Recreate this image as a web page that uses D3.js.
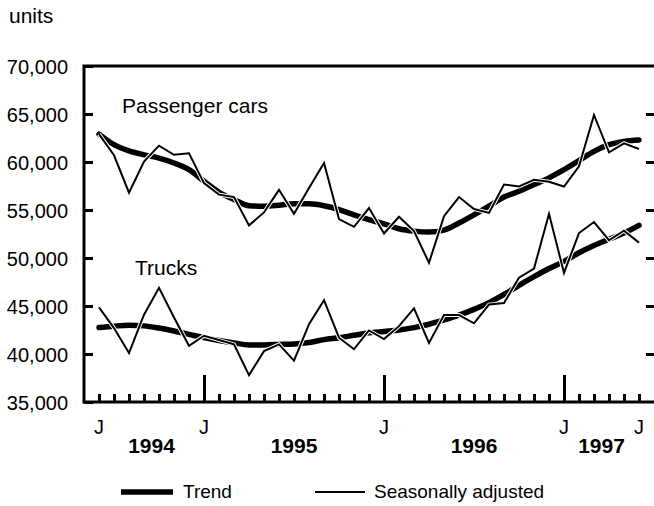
<!DOCTYPE html>
<html>
<head>
<meta charset="utf-8">
<script src="https://cdn.jsdelivr.net/npm/d3@7"></script>
<style>
  body { margin: 0; background: #fff; }
  text { font-family: "Liberation Sans", Arial, sans-serif; fill: #000; }
</style>
</head>
<body>
<div id="chart"></div>
<script>
var width = 654;
var height = 506;

// monthly, June 1994 .. June 1997
var months = d3.timeMonth.range(new Date(1994, 5, 1), new Date(1997, 6, 1));
var yTicks = [35000, 40000, 45000, 50000, 55000, 60000, 65000, 70000];
var years = ["1994", "1995", "1996", "1997"];

var carsSA = [62900, 60700, 56800, 60050, 61700, 60750, 60900, 57800, 56600, 56350,
  53400, 54750, 57100, 54600, 57300, 59900, 54050, 53250, 55200, 52550,
  54300, 52800, 49500, 54350, 56350, 55100, 54700, 57650, 57450, 58150,
  57950, 57450, 59550, 64900, 61000, 61950, 61350];
var carsTrend = [62900, 61800, 61150, 60750, 60400, 59900, 59200, 58000, 56850, 56100,
  55450, 55400, 55500, 55650, 55650, 55450, 55050, 54500, 54000, 53550,
  53050, 52800, 52700, 52900, 53650, 54500, 55400, 56350, 56950, 57650,
  58350, 59200, 60150, 61100, 61800, 62150, 62300];
var trucksSA = [44850, 42700, 40100, 44100, 46900, 43800, 40850, 41900, 41450, 41000,
  37800, 40300, 41000, 39300, 43100, 45600, 41700, 40500, 42450, 41550,
  42900, 44750, 41150, 44050, 44050, 43200, 45150, 45300, 47950, 48900,
  54600, 48450, 52600, 53750, 51850, 52850, 51600];
var trucksTrend = [42750, 42900, 43000, 42930, 42700, 42400, 42050, 41700, 41400, 41150,
  40950, 40950, 41000, 41050, 41200, 41500, 41700, 41950, 42200, 42350,
  42500, 42750, 43100, 43550, 44050, 44650, 45350, 46200, 47150, 48050,
  48900, 49650, 50550, 51300, 51950, 52600, 53400];

var plotLeft = 84, plotTop = 66, plotBottom = 402, plotRight = 656;

var svg = d3.select("#chart").append("svg")
  .attr("width", width)
  .attr("height", height);

var x = d3.scalePoint()
  .domain(months)
  .range([plotLeft, 654])
  .padding(1);

var y = d3.scaleLinear()
  .domain([35000, 70000])
  .range([plotBottom, plotTop]);

// frame
svg.append("rect")
  .attr("x", plotLeft)
  .attr("y", plotTop)
  .attr("width", plotRight - plotLeft)
  .attr("height", plotBottom - plotTop)
  .attr("fill", "none")
  .attr("stroke", "#000")
  .attr("stroke-width", 3);

// y axis left
var yAxis = svg.append("g")
  .attr("transform", "translate(" + plotLeft + ",0)")
  .call(d3.axisLeft(y).tickValues(yTicks).tickSize(-9).tickPadding(16)
    .tickFormat(d3.format(",")));
yAxis.select(".domain").remove();
yAxis.selectAll("line").attr("stroke-width", 3);
yAxis.selectAll("text").style("font-size", "20px").attr("dy", "0.36em");

// y ticks right
var yAxisR = svg.append("g")
  .attr("transform", "translate(" + plotRight + ",0)")
  .call(d3.axisRight(y).tickValues(yTicks.slice(1, -1)).tickSize(-10).tickFormat(""));
yAxisR.select(".domain").remove();
yAxisR.selectAll("line").attr("stroke-width", 3);

// month ticks
var xAxis = svg.append("g")
  .attr("transform", "translate(0," + plotBottom + ")")
  .call(d3.axisBottom(x).tickValues(months).tickSize(-8).tickFormat(""));
xAxis.select(".domain").remove();
xAxis.selectAll("line").attr("stroke-width", 3);

var jans = months.filter(function(d) { return d.getMonth() === 0; });
var xAxisJ = svg.append("g")
  .attr("transform", "translate(0," + plotBottom + ")")
  .call(d3.axisBottom(x).tickValues(jans).tickSize(-27).tickFormat(""));
xAxisJ.select(".domain").remove();
xAxisJ.selectAll("line").attr("stroke-width", 3);

// month letters
var jLabels = [months[0]].concat(jans).concat([months[months.length - 1]]);
svg.selectAll(".mlabel")
  .data(jLabels)
  .enter().append("text")
    .attr("class", "mlabel")
    .attr("x", function(d) { return x(d); })
    .attr("y", 434)
    .attr("text-anchor", "middle")
    .style("font-size", "20px")
    .text("J");

// year labels
var yearBounds = [
  [months[0], jans[0]],
  [jans[0], jans[1]],
  [jans[1], jans[2]],
  [jans[2], months[months.length - 1]]
];
svg.selectAll(".ylabel")
  .data(years)
  .enter().append("text")
    .attr("class", "ylabel")
    .attr("x", function(d, i) { return (x(yearBounds[i][0]) + x(yearBounds[i][1])) / 2; })
    .attr("y", 453)
    .attr("text-anchor", "middle")
    .style("font-size", "21px")
    .style("font-weight", "bold")
    .text(function(d) { return d; });

// lines
var trendLine = d3.line()
  .x(function(d, i) { return x(months[i]); })
  .y(function(d) { return y(d); })
  .curve(d3.curveMonotoneX);
var saLine = d3.line()
  .x(function(d, i) { return x(months[i]); })
  .y(function(d) { return y(d); });

[carsTrend, trucksTrend].forEach(function(s) {
  svg.append("path").datum(s)
    .attr("d", trendLine)
    .attr("fill", "none")
    .attr("stroke", "#000")
    .attr("stroke-width", 5.5)
    .attr("stroke-linejoin", "round")
    .attr("stroke-linecap", "round");
});
[carsSA, trucksSA].forEach(function(s) {
  svg.append("path").datum(s)
    .attr("d", saLine)
    .attr("fill", "none")
    .attr("stroke", "#fff")
    .attr("stroke-width", 4);
  svg.append("path").datum(s)
    .attr("d", saLine)
    .attr("fill", "none")
    .attr("stroke", "#000")
    .attr("stroke-width", 2);
});

// labels
svg.append("text").attr("x", 9).attr("y", 23).style("font-size", "21px").text("units");
svg.append("text").attr("x", 122).attr("y", 113).style("font-size", "21px").text("Passenger cars");
svg.append("text").attr("x", 135).attr("y", 275).style("font-size", "21px").text("Trucks");

// legend
svg.append("line")
  .attr("x1", 121).attr("x2", 173).attr("y1", 492).attr("y2", 492)
  .attr("stroke", "#000").attr("stroke-width", 5.5);
svg.append("text").attr("x", 183).attr("y", 498).style("font-size", "19px").text("Trend");
svg.append("line")
  .attr("x1", 315).attr("x2", 365).attr("y1", 492).attr("y2", 492)
  .attr("stroke", "#000").attr("stroke-width", 2);
svg.append("text").attr("x", 374).attr("y", 498).style("font-size", "19px").text("Seasonally adjusted");
</script>
</body>
</html>
